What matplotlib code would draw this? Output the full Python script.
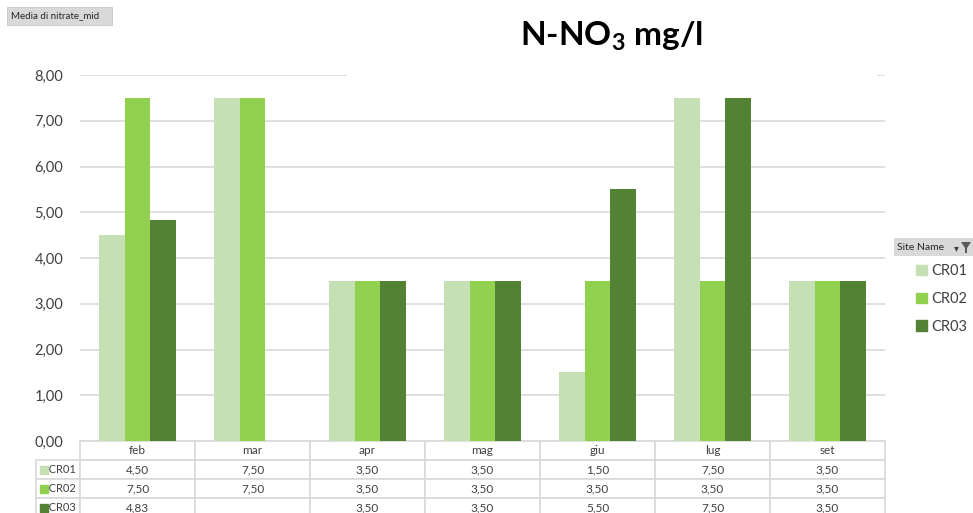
import matplotlib
matplotlib.use("Agg")
import matplotlib.pyplot as plt
import matplotlib.patches as mpatches
from matplotlib.ticker import FuncFormatter
import numpy as np

plt.rcParams['font.family'] = ['Lato', 'DejaVu Sans']
plt.rcParams['mathtext.fontset'] = 'custom'
plt.rcParams['mathtext.bf'] = 'Lato:bold'
plt.rcParams['mathtext.rm'] = 'Lato'

# monthly means of nitrate per site
months = ['feb', 'mar', 'apr', 'mag', 'giu', 'lug', 'set']
sites = ['CR01', 'CR02', 'CR03']
cr01 = [4.50, 7.50, 3.50, 3.50, 1.50, 7.50, 3.50]
cr02 = [7.50, 7.50, 3.50, 3.50, 3.50, 3.50, 3.50]
cr03 = [4.83, np.nan, 3.50, 3.50, 5.50, 7.50, 3.50]
colors = ['#C5E0B4', '#92D050', '#548235']

W, H = 973, 513
fig = plt.figure(figsize=(W / 100, H / 100), dpi=100)
ax = fig.add_axes([80 / W, (H - 441) / H, 805 / W, 366 / H])

def it(v):
    return f"{v:.2f}".replace('.', ',')

x = np.arange(len(months))
bw = 0.223
for i, (vals, c) in enumerate(zip([cr01, cr02, cr03], colors)):
    ax.bar(x + (i - 1) * bw, vals, width=bw, color=c, zorder=2)

ax.set_xlim(-0.5, len(months) - 0.5)
ax.set_ylim(0, 8)
ax.set_yticks(np.arange(0, 9, 1))
ax.yaxis.set_major_formatter(FuncFormatter(lambda v, p: it(v)))
ax.tick_params(axis='y', length=0, pad=12, labelsize=10.5, labelcolor='#404040')
ax.set_xticks([])
ax.yaxis.grid(True, color='#D9D9D9', lw=1.2, zorder=0)
ax.set_axisbelow(True)
for s in ax.spines.values():
    s.set_visible(False)

# data table under the bars; first column holds the series names
cell_text = []
for s, vals in zip(sites, [cr01, cr02, cr03]):
    cell_text.append(['   ' + s] + ['' if np.isnan(v) else it(v) for v in vals])
row_w = 44 / 805
col_w = [row_w] + [1 / len(months)] * len(months)
tbl = ax.table(cellText=cell_text, colLabels=[''] + months, cellLoc='center',
               colWidths=col_w, bbox=[-row_w, -76 / 366, 1 + row_w, 76 / 366])
tbl.auto_set_font_size(False)
for (r, c), cell in tbl.get_celld().items():
    cell.set_edgecolor('#D9D9D9')
    cell.set_linewidth(1.2)
    cell.get_text().set_fontsize(8.5)
    cell.get_text().set_color('#404040')
    if c == 0:
        cell._loc = 'left'
        cell.PAD = 0.02
        cell.get_text().set_fontsize(8)
        if r == 0:
            cell.set_edgecolor('none')

# colour keys in the name cells
for i, c in enumerate(colors):
    yc = -(19 * (i + 1) + 9.5) / 366
    ax.scatter([-(36 / 805)], [yc], marker='s', s=28, color=c,
               transform=ax.transAxes, clip_on=False, zorder=5)

# white band over the top gridline behind the title
fig.patches.append(mpatches.Rectangle((347 / W, (H - 77) / H), 530 / W, 77 / H,
                                      transform=fig.transFigure, facecolor='white',
                                      edgecolor='none', zorder=3))
fig.text(612 / W, (H - 36) / H, r'N-NO$_\mathbf{3}$ mg/l', fontsize=24,
         fontweight='bold', ha='center', va='center', zorder=4)

# field button at top left
fig.patches.append(mpatches.Rectangle((7 / W, (H - 25) / H), 105 / W, 18 / H,
                                      transform=fig.transFigure, facecolor='#D9D9D9',
                                      edgecolor='#C8C8C8', lw=0.6, zorder=3))
fig.text(11 / W, (H - 16) / H, 'Media di nitrate_mid', fontsize=7,
         color='#262626', va='center', zorder=4)

# legend header button
fig.patches.append(mpatches.Rectangle((894 / W, (H - 256) / H), 79 / W, 18 / H,
                                      transform=fig.transFigure, facecolor='#D9D9D9',
                                      edgecolor='none', zorder=3))
fig.text(897 / W, (H - 247) / H, 'Site Name', fontsize=7.5, color='#262626',
         va='center', zorder=4)
fig.text(956 / W, (H - 248) / H, '▾', fontsize=7, color='#404040',
         va='center', ha='center', family='DejaVu Sans', zorder=4)
fig.patches.append(mpatches.Polygon([[961 / W, (H - 242) / H], [971 / W, (H - 242) / H],
                                     [967 / W, (H - 248) / H], [967 / W, (H - 253) / H],
                                     [965 / W, (H - 253) / H], [965 / W, (H - 248) / H]],
                                    closed=True, transform=fig.transFigure,
                                    facecolor='#595959', edgecolor='none', zorder=4))

handles = [mpatches.Patch(color=c) for c in colors]
fig.legend(handles, sites, loc='upper left', bbox_to_anchor=(903 / W, (H - 251) / H),
           frameon=False, fontsize=10.5, handlelength=0.75, handleheight=0.75,
           handletextpad=0.3, labelspacing=0.95, labelcolor='#404040')

fig.savefig('out.png', dpi=100)
